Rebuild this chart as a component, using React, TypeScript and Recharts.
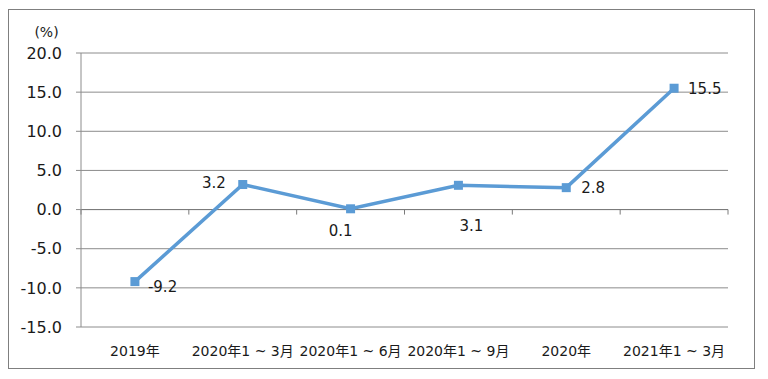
import { CartesianGrid, LabelList, Line, LineChart, ReferenceLine, XAxis, YAxis } from "recharts";

const periods = ["2019年", "2020年1 ~ 3月", "2020年1 ~ 6月", "2020年1 ~ 9月", "2020年", "2021年1 ~ 3月"];
const growth = [-9.2, 3.2, 0.1, 3.1, 2.8, 15.5];
const yTicks = [-15, -10, -5, 0, 5, 10, 15, 20];

const data = periods.map((p, i) => ({ period: p, value: growth[i] }));

const FONT = '"DejaVu Sans", "Noto Sans CJK SC", sans-serif';
const BLUE = "#5B9BD5";
const GRID = "#8c8c8c";

// label offsets per point: [dx, dy, anchor]
const labelPos: [number, number, "start" | "middle" | "end"][] = [
    [13, 5, "start"],
    [-17, -2, "end"],
    [-10, 22, "middle"],
    [13, 41, "middle"],
    [15, 0, "start"],
    [14, 1, "start"],
];

const SquareDot = (props: any) => {
    const { cx, cy } = props;
    if (cx == null || cy == null) return null;
    return <rect x={cx - 4.5} y={cy - 4.5} width={9} height={9} fill={BLUE} />;
};

const ZeroAxis = (props: any) => {
    const { x1, x2, y1 } = props;
    const n = periods.length;
    const step = (x2 - x1) / n;
    const ticks = [];
    for (let i = 0; i <= n; i++) ticks.push(x1 + i * step);
    return (
        <g>
            <line x1={x1} x2={x2} y1={y1} y2={y1} stroke="#7a7a7a" strokeWidth={1} />
            {ticks.map((t, i) => (
                <line key={i} x1={t} x2={t} y1={y1} y2={y1 + 5} stroke="#7a7a7a" strokeWidth={1} />
            ))}
        </g>
    );
};

const renderLabel = (props: any) => {
    const { x, y, value, index } = props;
    const [dx, dy, anchor] = labelPos[index];
    return (
        <text
            x={x + dx}
            y={y + dy}
            textAnchor={anchor}
            dominantBaseline="central"
            fontSize={15}
            fontFamily={FONT}
            fill="#1a1a1a"
        >
            {Number(value).toFixed(1)}
        </text>
    );
};

export default function App() {
    return (
        <div style={{ position: "fixed", left: 0, top: 0, width: 768, height: 379, background: "#fff" }}>
            <div
                style={{
                    position: "absolute",
                    left: 8,
                    top: 9,
                    width: 747,
                    height: 360,
                    border: "1px solid #7f7f7f",
                    boxSizing: "border-box",
                }}
            />
            <div style={{ position: "absolute", left: 0, top: 0 }}>
                <LineChart width={768} height={379} data={data} margin={{ top: 53, right: 40, bottom: 22, left: 8 }}>
                    <CartesianGrid vertical={false} stroke={GRID} />
                    <XAxis
                        dataKey="period"
                        scale="band"
                        axisLine={false}
                        tickLine={false}
                        tickSize={8}
                        tickMargin={11}
                        height={30}
                        interval={0}
                        tick={{ fill: "#1a1a1a", fontSize: 14, fontFamily: FONT }}
                    />
                    <YAxis
                        width={73}
                        domain={[-15, 20]}
                        ticks={yTicks}
                        interval={0}
                        axisLine={{ stroke: GRID }}
                        tickLine={{ stroke: GRID }}
                        tickSize={5}
                        tickMargin={14}
                        tickFormatter={(v) => Number(v).toFixed(1)}
                        tick={{ fill: "#1a1a1a", fontSize: 16, fontFamily: FONT }}
                        label={{
                            value: "(%)",
                            position: "top",
                            offset: 16,
                            dx: 2,
                            fill: "#1a1a1a",
                            fontSize: 14,
                            fontFamily: FONT,
                        }}
                    />
                    <ReferenceLine y={0} shape={ZeroAxis} />
                    <Line
                        dataKey="value"
                        stroke={BLUE}
                        strokeWidth={3.5}
                        dot={<SquareDot />}
                        activeDot={false}
                        isAnimationActive={false}
                    >
                        <LabelList dataKey="value" content={renderLabel} />
                    </Line>
                </LineChart>
            </div>
        </div>
    );
}
